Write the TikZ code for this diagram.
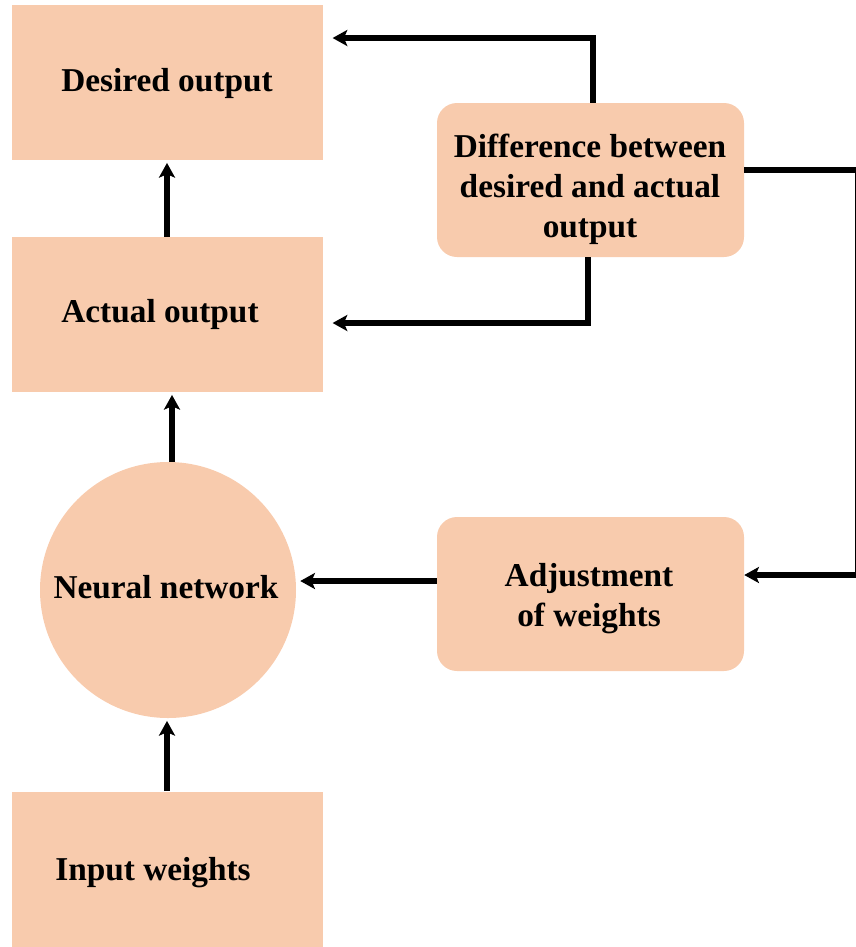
\documentclass[tikz,border=0pt]{standalone}
\usepackage{fontspec}
\setmainfont{Liberation Serif}
\usetikzlibrary{arrows.meta}
\definecolor{boxfill}{HTML}{F8CBAD}
\begin{document}
\begin{tikzpicture}[x=0.75pt,y=-0.75pt,
  lbl/.style={font=\fontsize{25pt}{30pt}\selectfont\bfseries, align=center, text=black, inner sep=0pt},
  sqbox/.style={fill=boxfill, minimum width=311*0.75pt, minimum height=155*0.75pt, inner sep=0pt},
  rbox/.style={fill=boxfill, rounded corners=20*0.75pt, minimum width=307*0.75pt, minimum height=154*0.75pt, inner sep=0pt},
  circ/.style={fill=boxfill, circle, minimum size=256*0.75pt, inner sep=0pt},
  conn/.style={line width=3.8pt, -{Stealth[length=11pt,width=12pt,inset=2.5pt]}}]
\useasboundingbox (0,0) rectangle (856,947);
\clip (0,0) rectangle (856,947);
% shapes
\node[sqbox] (des) at (167.5,82.5) {};
\node[sqbox] (act) at (167.5,314.5) {};
\node[sqbox] (inp) at (167.5,869) {};
\node[circ] (nn) at (168,590) {};
\node[rbox] (diff) at (590.5,180) {};
\node[rbox] (adj) at (590.5,594) {};
% labels
\node[lbl] (desT) at (167,83.5) {Desired output};
\node[lbl] (actT) at (160,314.5) {Actual output};
\node[lbl] (inpT) at (153,873) {Input weights};
\node[lbl] (nnT) at (166,587) {Neural network};
\node[lbl] (diffT) at (590,189) {Difference between\\desired and actual\\output};
\node[lbl] (adjT) at (589,598.5) {Adjustment\\of weights};
% vertical arrows
\draw[conn, shorten >=2pt] (act.north -| 167,0) -- (des.south -| 167,0);
\draw[conn, shorten >=2pt] (nn.north -| 172,0) -- (act.south -| 172,0);
\draw[conn, shorten >=2pt] (inp.north -| 167,0) -- (nn.south -| 167,0);
\draw[conn, shorten >=3pt] (adj.west |- 0,581) -- (nn.east |- 0,581);
% feedback from difference
\coordinate (t1) at (593,38);
\coordinate (b1) at (588,323);
\coordinate (r1) at (857.5,170);
\coordinate (r2) at (857.5,575);
\draw[conn, shorten >=7pt] (diff.north -| 593,0) -- (t1) -- (des.east |- t1);
\draw[conn, shorten >=7pt] (diff.south -| 588,0) -- (b1) -- (act.east |- b1);
\draw[conn] (diff.east |- r1) -- (r1) -- (r2) -- (adj.east |- r2);
\end{tikzpicture}
\end{document}
